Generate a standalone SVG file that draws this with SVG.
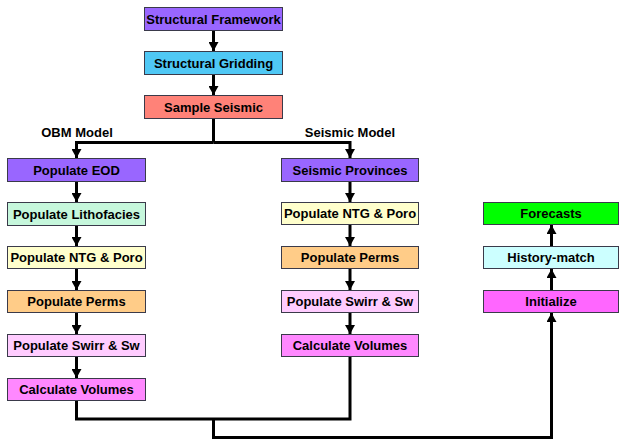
<svg xmlns="http://www.w3.org/2000/svg" width="623" height="440" viewBox="0 0 623 440">
<defs>
<style>
.b{stroke:#3a3a4a;stroke-width:1}
.t{font-family:"Liberation Sans",Arial,sans-serif;font-weight:bold;font-size:13px;fill:#000;text-anchor:middle}
.c{fill:none;stroke:#000;stroke-width:3}
</style>
<marker id="ah" markerWidth="9" markerHeight="10" refX="9" refY="5" orient="auto" markerUnits="userSpaceOnUse" viewBox="0 0 9 10">
<path d="M0,0 L9,5 L0,10 Z" fill="#000"/>
</marker>
</defs>
<rect width="623" height="440" fill="#fff"/>
<g id="connectors">
<path class="c" d="M213.5,30 V51" marker-end="url(#ah)"/>
<path class="c" d="M213.5,74 V95" marker-end="url(#ah)"/>
<path class="c" d="M213.5,118 V142.5"/>
<path class="c" d="M213.5,142.5 H76.5 V158" marker-end="url(#ah)"/>
<path class="c" d="M213.5,142.5 H350 V158" marker-end="url(#ah)"/>
<path class="c" d="M76.5,181 V202" marker-end="url(#ah)"/>
<path class="c" d="M76.5,225 V246" marker-end="url(#ah)"/>
<path class="c" d="M76.5,268 V290" marker-end="url(#ah)"/>
<path class="c" d="M76.5,312 V334" marker-end="url(#ah)"/>
<path class="c" d="M76.5,356 V378" marker-end="url(#ah)"/>
<path class="c" d="M350,181 V202" marker-end="url(#ah)"/>
<path class="c" d="M350,225 V246" marker-end="url(#ah)"/>
<path class="c" d="M350,268 V290" marker-end="url(#ah)"/>
<path class="c" d="M350,312 V334" marker-end="url(#ah)"/>
<path class="c" d="M76.5,400 V419 H350 V356"/>
<path class="c" d="M213.5,419 V437.5 H551.5 V313" marker-end="url(#ah)"/>
<path class="c" d="M551.5,290 V269" marker-end="url(#ah)"/>
<path class="c" d="M551.5,246 V225" marker-end="url(#ah)"/>
</g>
<text class="t" x="77" y="137">OBM Model</text>
<text class="t" x="350" y="137">Seismic Model</text>
<g id="structural-framework"><rect class="b" x="144.5" y="7.5" width="138" height="23" fill="#9966ff"/><text class="t" x="213.5" y="23.5">Structural Framework</text></g>
<g id="structural-gridding"><rect class="b" x="144.5" y="51.5" width="138" height="23" fill="#4fc8f5"/><text class="t" x="213.5" y="67.5">Structural Gridding</text></g>
<g id="sample-seismic"><rect class="b" x="144.5" y="95.5" width="138" height="23" fill="#ff8278"/><text class="t" x="213.5" y="111.5">Sample Seismic</text></g>
<g id="populate-eod"><rect class="b" x="7.5" y="158.5" width="138" height="23" fill="#9966ff"/><text class="t" x="76.5" y="174.5">Populate EOD</text></g>
<g id="populate-lithofacies"><rect class="b" x="7.5" y="202.5" width="138" height="23" fill="#c6f7dc"/><text class="t" x="76.5" y="218.5">Populate Lithofacies</text></g>
<g id="populate-ntg-poro-l"><rect class="b" x="7.5" y="246.5" width="138" height="22" fill="#ffffcc"/><text class="t" x="76.5" y="262">Populate NTG &amp; Poro</text></g>
<g id="populate-perms-l"><rect class="b" x="7.5" y="290.5" width="138" height="22" fill="#ffcc88"/><text class="t" x="76.5" y="306">Populate Perms</text></g>
<g id="populate-swirr-l"><rect class="b" x="7.5" y="334.5" width="138" height="22" fill="#ffccff"/><text class="t" x="76.5" y="350">Populate Swirr &amp; Sw</text></g>
<g id="calculate-volumes-l"><rect class="b" x="7.5" y="378.5" width="138" height="22" fill="#ff88ff"/><text class="t" x="76.5" y="394">Calculate Volumes</text></g>
<g id="seismic-provinces"><rect class="b" x="281.5" y="158.5" width="137" height="23" fill="#9966ff"/><text class="t" x="350" y="174.5">Seismic Provinces</text></g>
<g id="populate-ntg-poro-r"><rect class="b" x="281.5" y="202.5" width="137" height="22" fill="#ffffcc"/><text class="t" x="350" y="218">Populate NTG &amp; Poro</text></g>
<g id="populate-perms-r"><rect class="b" x="281.5" y="246.5" width="137" height="22" fill="#ffcc88"/><text class="t" x="350" y="262">Populate Perms</text></g>
<g id="populate-swirr-r"><rect class="b" x="281.5" y="290.5" width="137" height="22" fill="#ffccff"/><text class="t" x="350" y="306">Populate Swirr &amp; Sw</text></g>
<g id="calculate-volumes-r"><rect class="b" x="281.5" y="334.5" width="137" height="22" fill="#ff88ff"/><text class="t" x="350" y="350">Calculate Volumes</text></g>
<g id="forecasts"><rect class="b" x="483.5" y="202.5" width="135" height="22" fill="#00ff00"/><text class="t" x="551" y="218">Forecasts</text></g>
<g id="history-match"><rect class="b" x="483.5" y="246.5" width="135" height="22" fill="#ccffff"/><text class="t" x="551" y="262">History-match</text></g>
<g id="initialize"><rect class="b" x="483.5" y="290.5" width="135" height="22" fill="#ff66ff"/><text class="t" x="551" y="306">Initialize</text></g>
</svg>
